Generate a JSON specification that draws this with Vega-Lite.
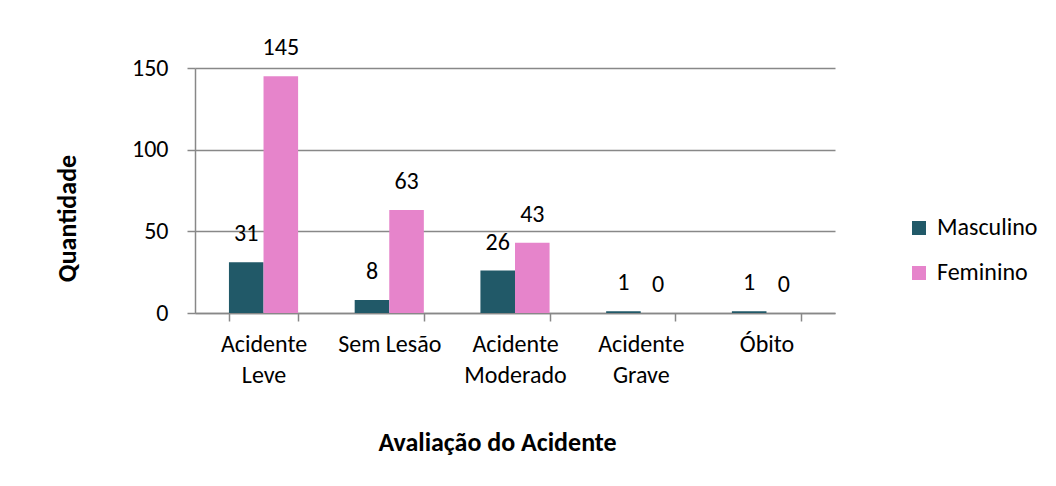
{
  "$schema": "https://vega.github.io/schema/vega-lite/v6.json",
  "autosize": "none",
  "width": 640,
  "height": 245,
  "padding": {"left": 195, "top": 68, "right": 221, "bottom": 173},
  "background": "white",
  "data": {"values": [
    {"categoria": "Acidente Leve", "sexo": "Masculino", "quantidade": 31},
    {"categoria": "Acidente Leve", "sexo": "Feminino", "quantidade": 145},
    {"categoria": "Sem Lesão", "sexo": "Masculino", "quantidade": 8},
    {"categoria": "Sem Lesão", "sexo": "Feminino", "quantidade": 63},
    {"categoria": "Acidente Moderado", "sexo": "Masculino", "quantidade": 26},
    {"categoria": "Acidente Moderado", "sexo": "Feminino", "quantidade": 43},
    {"categoria": "Acidente Grave", "sexo": "Masculino", "quantidade": 1},
    {"categoria": "Acidente Grave", "sexo": "Feminino", "quantidade": 0},
    {"categoria": "Óbito", "sexo": "Masculino", "quantidade": 1},
    {"categoria": "Óbito", "sexo": "Feminino", "quantidade": 0}
  ]},
  "encoding": {
    "x": {
      "field": "categoria", "type": "nominal",
      "sort": ["Acidente Leve", "Sem Lesão", "Acidente Moderado", "Acidente Grave", "Óbito"],
      "scale": {"paddingInner": 0.45, "paddingOuter": 0.27},
      "axis": {
        "title": "Avaliação do Acidente",
        "titleFontSize": 26, "titleFontWeight": "bold", "titleColor": "black",
        "titleX": 302, "titleY": 129, "titleBaseline": "middle",
        "labelAngle": 0, "labelFontSize": 24, "labelColor": "black",
        "labelExpr": "datum.label === 'Sem Lesão' || datum.label === 'Óbito' ? datum.label : split(datum.label, ' ')",
        "labelLineHeight": 31, "labelPadding": 11, "labelBaseline": "top",
        "tickBand": "extent", "tickSize": 8, "tickColor": "#888888", "tickWidth": 1.5,
        "domainColor": "#888888", "domainWidth": 1.5
      }
    },
    "xOffset": {"field": "sexo", "sort": ["Masculino", "Feminino"]},
    "y": {
      "field": "quantidade", "type": "quantitative",
      "scale": {"domain": [0, 150]},
      "axis": {
        "title": "Quantidade", "titleFontSize": 26, "titleFontWeight": "bold", "titleColor": "black",
        "titleAngle": -90, "titleX": -128, "titleY": 150, "titleAlign": "center", "titleBaseline": "middle",
        "values": [0, 50, 100, 150],
        "labelFontSize": 24, "labelColor": "black", "labelPadding": 19,
        "tickSize": 8, "tickColor": "#888888", "tickWidth": 1.5,
        "grid": true, "gridColor": "#888888", "gridWidth": 1.5,
        "domainColor": "#888888", "domainWidth": 1.5
      }
    },
    "color": {
      "field": "sexo", "type": "nominal",
      "sort": ["Masculino", "Feminino"],
      "scale": {"domain": ["Masculino", "Feminino"], "range": ["#215968", "#E684CB"]},
      "legend": {
        "title": null, "orient": "none", "legendX": 712, "legendY": 148,
        "symbolType": "square", "symbolSize": 196, "labelFontSize": 24, "labelColor": "black",
        "rowPadding": 21, "labelOffset": 6
      }
    }
  },
  "layer": [
    {"mark": {"type": "bar"}},
    {
      "mark": {"type": "text", "baseline": "bottom", "dy": -16, "fontSize": 24, "color": "black"},
      "encoding": {"text": {"field": "quantidade"}, "color": {"value": "black"}}
    }
  ],
  "config": {
    "font": "Carlito, Lato, sans-serif",
    "view": {"stroke": null}
  }
}
